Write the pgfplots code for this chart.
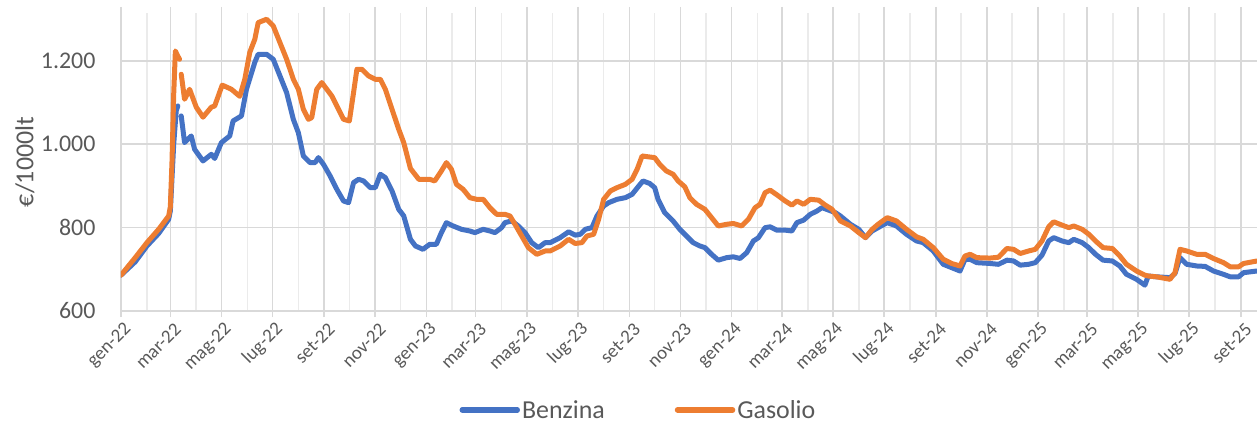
\documentclass[border=0pt]{standalone}
\usepackage{fontspec}
\setmainfont{Carlito}
\usepackage{pgfplots}
\pgfplotsset{compat=1.18}
\definecolor{benz}{HTML}{4472C4}
\definecolor{gas}{HTML}{ED7D31}
\definecolor{txt}{HTML}{595959}
\definecolor{gmaj}{HTML}{D9D9D9}
\definecolor{gmin}{HTML}{EBEBEB}
\begin{document}
\begin{tikzpicture}
\path[use as bounding box] (-121bp,-110bp) rectangle (1136bp,311bp);
\begin{axis}[
  at={(0,0)}, anchor=south west,
  width=1136bp, height=298bp, scale only axis,
  xmin=0, xmax=1358, ymin=600, ymax=1315,
  axis line style={draw=none},
  xtick={0,59,120,181,243,304,365,424,485,546,608,669,730,790,851,912,974,1035,1096,1155,1216,1277,1339},
  xticklabels={gen-22,mar-22,mag-22,lug-22,set-22,nov-22,gen-23,mar-23,mag-23,lug-23,set-23,nov-23,gen-24,mar-24,mag-24,lug-24,set-24,nov-24,gen-25,mar-25,mag-25,lug-25,set-25},
  minor xtick={31,90,151,212,273,334,396,455,516,577,638,699,761,821,882,943,1004,1065,1127,1186,1247,1308},
  ytick={600,800,1000,1200}, yticklabels={600,800,1.000,1.200},
  grid=both,
  major grid style={gmaj, line width=1.6bp},
  minor grid style={gmin, line width=1.6bp},
  tick align=outside, major tick length=6bp, minor tick length=0pt,
  xtick style={gmaj, line width=1.6bp},
  ytick style={draw=none},
  xticklabel style={rotate=45, anchor=east, font=\fontsize{19}{22}\selectfont, text=txt, yshift=-12bp, xshift=2bp},
  yticklabel style={anchor=east, font=\fontsize{24}{28}\selectfont, text=txt, xshift=-16bp},
  ylabel={€/1000lt},
  ylabel style={at={(axis description cs:-0.0845,0.5)}, anchor=center, font=\fontsize{26}{30}\selectfont, text=txt},
  unbounded coords=jump,
  legend columns=2,
  legend style={at={(0.4555,-0.332)}, anchor=center, draw=none, fill=none,
    font=\fontsize{26}{30}\selectfont, text=txt,
    /tikz/every even column/.append style={column sep=68bp}},
  legend image code/.code={\draw[#1, line width=5.5bp] (0bp,0bp) -- (55bp,0bp);},
]
\addplot[benz, line width=5bp, line join=round, line cap=round] coordinates {
(0,686) (17,718) (31,756) (45,786) (57,820) (59,840) (61,920) (63,1000) (66,1080) (68,1092) (70,nan) (72,1068) (76,1004) (84,1020) (88,988) (98,960) (108,976) (112,966) (120,1004) (130,1020) (134,1056) (144,1068) (150,1132) (160,1197) (164,1216) (174,1216) (182,1204) (190,1164) (198,1124) (206,1060) (212,1028) (218,972) (226,956) (232,956) (236,968) (242,952) (250,924) (258,892) (266,864) (272,860) (278,908) (284,916) (290,912) (298,896) (304,896) (310,928) (316,920) (324,888) (332,844) (338,828) (346,772) (352,756) (361,748) (369,760) (377,760) (383,788) (389,812) (397,804) (407,796) (417,792) (423,788) (433,796) (441,792) (447,788) (455,800) (459,812) (467,816) (475,804) (483,788) (491,764) (499,752) (507,764) (513,764) (525,776) (535,790) (543,782) (549,784) (555,796) (563,800) (569,828) (577,852) (583,860) (593,868) (603,872) (611,880) (619,900) (624,912) (632,906) (638,896) (642,868) (650,836) (660,816) (668,796) (676,780) (684,764) (692,756) (698,752) (706,736) (714,722) (724,728) (732,730) (740,726) (748,740) (756,768) (762,776) (770,800) (776,802) (784,794) (794,794) (802,792) (808,812) (816,818) (824,832) (832,840) (838,848) (846,842) (854,836) (860,828) (872,808) (882,796) (890,776) (898,792) (905,800) (916,812) (927,804) (939,784) (951,768) (959,764) (971,744) (983,712) (993,704) (1003,696) (1009,724) (1015,724) (1023,716) (1039,714) (1049,712) (1059,722) (1067,720) (1075,710) (1085,712) (1093,716) (1101,734) (1109,768) (1115,776) (1125,768) (1133,764) (1139,772) (1149,764) (1157,752) (1165,736) (1174,722) (1185,720) (1194,708) (1202,688) (1214,676) (1224,662) (1228,684) (1238,682) (1254,680) (1260,690) (1266,728) (1274,712) (1286,708) (1296,707) (1306,696) (1318,688) (1326,682) (1336,682) (1342,692) (1358,696)
};
\addlegendentry{Benzina}
\addplot[gas, line width=5bp, line join=round, line cap=round] coordinates {
(0,686) (17,728) (31,764) (45,796) (57,828) (59,850) (61,960) (63,1120) (65,1224) (67,1215) (70,1204) (71,nan) (72,1168) (76,1108) (82,1132) (90,1089) (98,1065) (108,1089) (112,1092) (121,1142) (132,1132) (142,1115) (148,1156) (154,1221) (160,1252) (164,1292) (174,1300) (182,1284) (190,1244) (198,1204) (206,1156) (212,1132) (218,1084) (224,1060) (228,1064) (234,1132) (240,1148) (246,1132) (252,1116) (260,1084) (266,1060) (273,1056) (278,1124) (282,1180) (288,1180) (296,1164) (304,1156) (310,1156) (316,1132) (324,1084) (332,1036) (338,1004) (346,942) (356,916) (369,916) (375,912) (383,936) (389,956) (395,940) (401,904) (409,892) (417,872) (425,868) (433,868) (441,848) (449,832) (459,832) (465,828) (471,808) (479,780) (487,752) (497,736) (507,744) (513,744) (525,756) (535,772) (543,762) (551,764) (557,780) (565,784) (571,820) (577,868) (585,888) (593,896) (603,904) (611,916) (617,940) (623,972) (630,970) (638,968) (644,952) (652,936) (660,928) (666,912) (674,898) (680,872) (688,856) (698,844) (706,824) (714,804) (724,808) (732,810) (742,804) (750,820) (758,848) (764,856) (770,884) (776,890) (786,876) (794,864) (802,854) (808,864) (816,856) (824,868) (834,866) (842,854) (850,844) (860,816) (872,804) (882,788) (890,776) (898,796) (905,808) (916,824) (927,816) (939,796) (951,778) (959,772) (971,752) (983,724) (993,714) (1003,708) (1009,732) (1015,736) (1023,728) (1039,727) (1049,729) (1059,750) (1067,748) (1075,738) (1085,744) (1093,748) (1101,768) (1109,802) (1115,814) (1125,806) (1133,800) (1139,804) (1149,796) (1157,784) (1165,768) (1174,752) (1185,750) (1194,732) (1202,712) (1214,696) (1224,686) (1228,684) (1238,682) (1254,676) (1260,692) (1266,748) (1274,744) (1286,736) (1296,736) (1306,726) (1318,716) (1326,706) (1336,706) (1342,714) (1358,720)
};
\addlegendentry{Gasolio}
\end{axis}
\end{tikzpicture}
\end{document}
